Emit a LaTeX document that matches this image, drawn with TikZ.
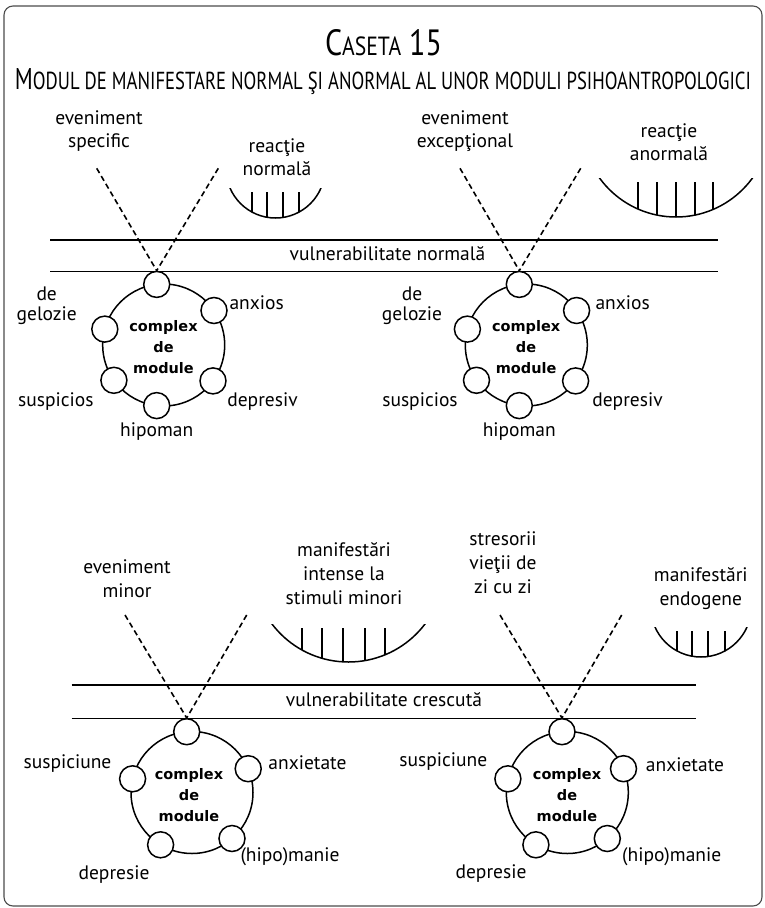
\documentclass[tikz,border=0pt]{standalone}
\usepackage{fontspec}
\usepackage{graphicx}
\setmainfont{PT Sans}
\newfontfamily\cmfont{DejaVu Sans}
\newfontfamily\titlefont{PT Sans}
\newcommand{\mybowl}[7]{%
  \begin{scope}
    \clip (#5-3,#4) rectangle (#6+3,#2+#3+6);
    \draw[bowlline] (#1,#2) circle[radius=#3pt];
  \end{scope}
  \begin{scope}
    \clip (#1,#2) circle[radius=#3pt];
    \foreach \xx in {#7} \draw[bowlline] (\xx,#4+4) -- (\xx,#2+#3+6);
  \end{scope}}
\begin{document}
\begin{tikzpicture}[x=1pt,y=-1pt,
  lbl/.style={font=\fontsize{19.5}{23}\selectfont, inner sep=0pt, text height=13.5pt, text depth=4pt},
  mlbl/.style={font=\fontsize{19.5}{23}\selectfont, inner sep=0pt, align=center},
  blbl/.style={font=\fontsize{19.5}{24}\selectfont, inner sep=0pt, align=center},
  glbl/.style={font=\fontsize{19.5}{20}\selectfont, inner sep=0pt, align=center},
  cplx/.style={font=\cmfont\bfseries\fontsize{14.5}{21}\selectfont, inner sep=0pt, align=center},
  modc/.style={circle, draw, fill=white, minimum size=26pt, inner sep=0pt, line width=1.5pt},
  ringline/.style={line width=1.5pt},
  hrule/.style={line width=1.5pt},
  bowlline/.style={line width=1.5pt},
  dsh/.style={dash pattern=on 5.5pt off 3.5pt, line width=1.6pt},
  framebox/.style={draw=black!70, line width=1.1pt, rounded corners=9pt}]
\useasboundingbox (0,0) rectangle (765,908);
\draw[framebox] (4,6) rectangle (762,906);

% titles
\node[inner sep=0pt, anchor=base] (title) at (383.5,55)
  {\resizebox{117pt}{26pt}{\titlefont\fontsize{20}{20}\selectfont C{\fontsize{14.4}{14}\selectfont ASETA} 15}};
\node[inner sep=0pt, anchor=base] (subtitle) at (383,89)
  {\resizebox{736pt}{21pt}{\titlefont\fontsize{20}{20}\selectfont M{\fontsize{16.4}{16}\selectfont ODUL DE MANIFESTARE NORMAL ŞI ANORMAL AL UNOR MODULI PSIHOANTROPOLOGICI}}};

% ================= top band =================
\coordinate (tA1) at (50,240);   \coordinate (tA2) at (718,240);
\coordinate (tB1) at (50,271.7); \coordinate (tB2) at (718,271.7);
\draw[hrule] (tA1) -- (tA2);
\draw[hrule] (tB1) -- (tB2);
\node[lbl] (vn) at (387.5,256) {vulnerabilitate normală};

% ---- top-left ----
\coordinate (tlc) at (163.7,345);
\draw[ringline] (tlc) circle[radius=61pt];
\node[modc] (tl1) at (156.7,284.4) {};
\node[modc] (tl2) at (214.0,310.5) {};
\node[modc] (tl3) at (213.0,380.9) {};
\node[modc] (tl4) at (156.7,405.6) {};
\node[modc] (tl5) at (113.9,380.3) {};
\node[modc] (tl6) at (104.8,329.1) {};
\node[cplx] (tlcm) at (163.5,347.5) {complex\\de\\module};
\coordinate (tlda) at (96.7,168.3);
\coordinate (tldb) at (218.3,168.3);
\draw[dsh] (tlda) -- (tl1.north);
\draw[dsh] (tldb) -- (tl1.north);
\node[mlbl] (tlev) at (99,131) {eveniment\\specific};
\node[mlbl] (tlre) at (277,157.5) {reacţie\\normală};
\node[glbl] (tlgel) at (46.7,306) {de\\gelozie};
\node[lbl] (tlanx) at (256.7,305) {anxios};
\node[lbl] (tlsus) at (55.8,401.7) {suspicios};
\node[lbl] (tldep) at (262.5,401.7) {depresiv};
\node[lbl] (tlhip) at (156.7,432) {hipoman};
\mybowl{275.5}{168.5}{49.5}{188}{230}{321}{252,267,283,299}

% ---- top-right ----
\coordinate (trc) at (526.3,345);
\draw[ringline] (trc) circle[radius=61pt];
\node[modc] (tr1) at (519.3,284.4) {};
\node[modc] (tr2) at (576.6,310.5) {};
\node[modc] (tr3) at (575.6,380.9) {};
\node[modc] (tr4) at (519.3,405.6) {};
\node[modc] (tr5) at (476.5,380.3) {};
\node[modc] (tr6) at (467.4,329.1) {};
\node[cplx] (trcm) at (526.1,347.5) {complex\\de\\module};
\coordinate (trda) at (460,168.3);
\coordinate (trdb) at (580.7,168.3);
\draw[dsh] (trda) -- (tr1.north);
\draw[dsh] (trdb) -- (tr1.north);
\node[mlbl] (trev) at (465,131) {eveniment\\excepţional};
\node[mlbl] (trre) at (669,142.5) {reacţie\\anormală};
\node[glbl] (trgel) at (412,306) {de\\gelozie};
\node[lbl] (tranx) at (622.7,305) {anxios};
\node[lbl] (trsus) at (420,401.7) {suspicios};
\node[lbl] (trdep) at (627.5,401.7) {depresiv};
\node[lbl] (trhip) at (519.3,432) {hipoman};
\mybowl{676}{122.5}{94.5}{178}{599.5}{752.5}{638,657,676,695,713}

% ================= bottom band =================
\coordinate (bA1) at (71.7,685);   \coordinate (bA2) at (696,685);
\coordinate (bB1) at (71.7,718.3); \coordinate (bB2) at (696,718.3);
\draw[hrule] (bA1) -- (bA2);
\draw[hrule] (bB1) -- (bB2);
\node[lbl] (vc) at (384,702) {vulnerabilitate crescută};

% ---- bottom-left ----
\coordinate (blc) at (192,792.5);
\draw[ringline] (blc) circle[radius=61pt];
\node[modc] (bl1) at (186.7,731.7) {};
\node[modc] (bl2) at (248.2,768.7) {};
\node[modc] (bl3) at (232.0,838.5) {};
\node[modc] (bl4) at (160.6,844.8) {};
\node[modc] (bl5) at (132.6,778.8) {};
\node[cplx] (blcm) at (189,795) {complex\\de\\module};
\coordinate (blda) at (125,615);
\coordinate (bldb) at (246.7,615);
\draw[dsh] (blda) -- (bl1.north);
\draw[dsh] (bldb) -- (bl1.north);
\node[blbl] (blev) at (127,579) {eveniment\\minor};
\node[blbl] (blma) at (344,574) {manifestări\\intense la\\stimuli minori};
\node[lbl] (blsus) at (67.5,763.3) {suspiciune};
\node[lbl] (blanx) at (307.5,765) {anxietate};
\node[lbl] (blhip) at (290,856.7) {(hipo)manie};
\node[lbl] (bldep) at (114,875) {depresie};
\mybowl{348.5}{566}{96}{624}{272}{425}{302,322,343,365,385}

% ---- bottom-right ----
\coordinate (brc) at (567.3,792.5);
\draw[ringline] (brc) circle[radius=61pt];
\node[modc] (br1) at (562.0,731.7) {};
\node[modc] (br2) at (623.5,768.7) {};
\node[modc] (br3) at (607.3,838.5) {};
\node[modc] (br4) at (535.9,844.8) {};
\node[modc] (br5) at (507.9,778.8) {};
\node[cplx] (brcm) at (567,795) {complex\\de\\module};
\coordinate (brda) at (500,615);
\coordinate (brdb) at (621.7,615);
\draw[dsh] (brda) -- (br1.north);
\draw[dsh] (brdb) -- (br1.north);
\node[blbl] (brst) at (503,563) {stresorii\\vieţii de\\zi cu zi};
\node[blbl] (brma) at (700.8,588.3) {manifestări\\endogene};
\node[lbl] (brsus) at (443.3,761.7) {suspiciune};
\node[lbl] (branx) at (685,766.7) {anxietate};
\node[lbl] (brhip) at (671.7,856.7) {(hipo)manie};
\node[lbl] (brdep) at (491,873.3) {depresie};
\mybowl{701}{606.7}{50.3}{627}{655}{747}{677,692,708,725}
\end{tikzpicture}
\end{document}
